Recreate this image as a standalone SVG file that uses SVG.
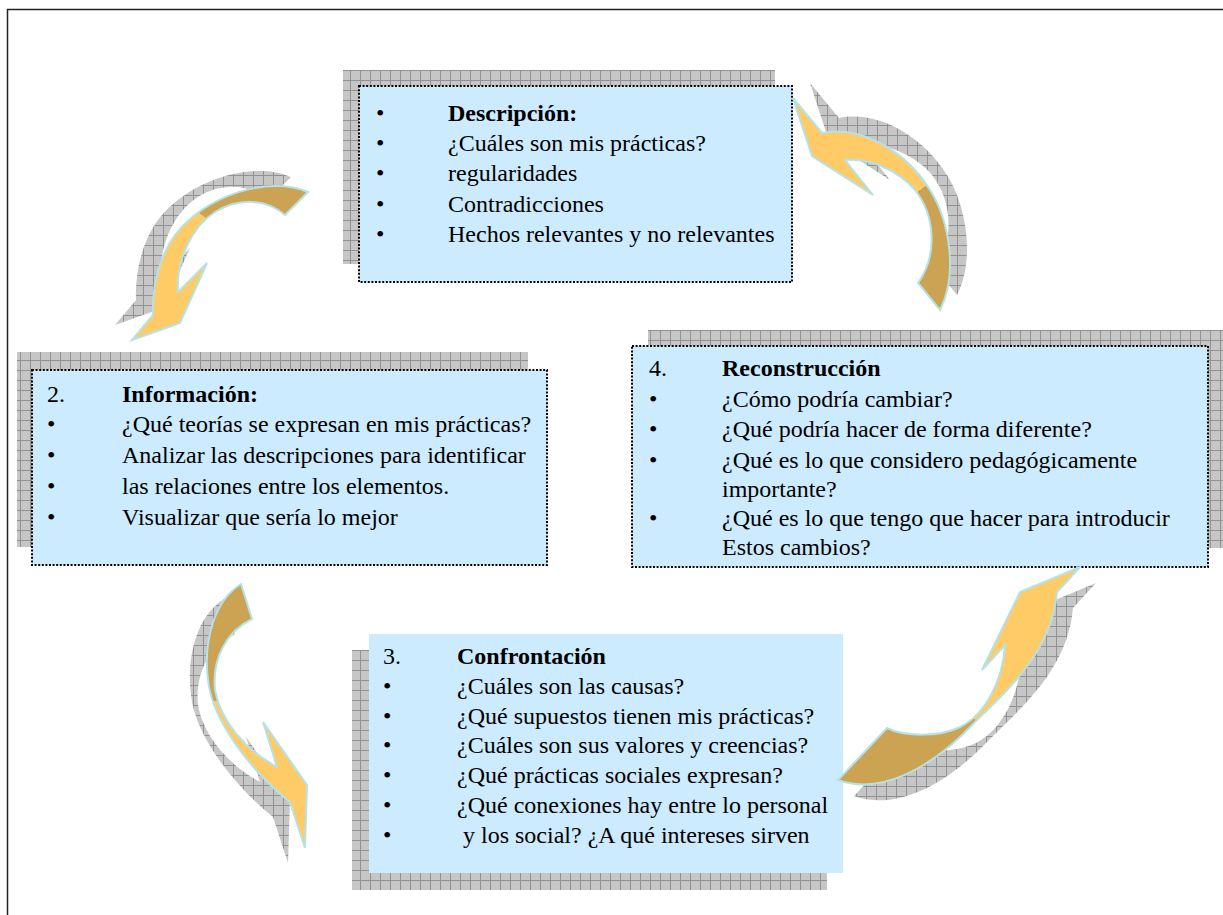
<svg xmlns="http://www.w3.org/2000/svg" width="1223" height="915" viewBox="0 0 1223 915">
<style>
.t{font-family:"Liberation Serif","Times New Roman",serif;font-size:24px;fill:#000}
.b{font-weight:bold}
.box{fill:#CCEBFE}
.dot{stroke:#000;stroke-width:2;stroke-dasharray:2 1.6}
.sh{fill:url(#chk)}
.arr{stroke:#B5E2E6;stroke-width:2;stroke-linejoin:miter}
</style>
<defs>
<pattern id="chk" width="10" height="10" patternUnits="userSpaceOnUse">
<rect width="10" height="10" fill="#c6c6c6"/>
<path d="M0 0.5H10M0.5 0V10" stroke="#929292" stroke-width="1"/>
</pattern>
<linearGradient id="gA" gradientUnits="userSpaceOnUse" x1="215" y1="198" x2="185" y2="228">
<stop offset="0.5" stop-color="#CCA352"/><stop offset="0.5" stop-color="#FECB67"/>
</linearGradient>
<linearGradient id="gB" gradientUnits="userSpaceOnUse" x1="905" y1="170" x2="935" y2="210">
<stop offset="0.5" stop-color="#FECB67"/><stop offset="0.5" stop-color="#CCA352"/>
</linearGradient>
<linearGradient id="gC" gradientUnits="userSpaceOnUse" x1="212" y1="690" x2="214" y2="712">
<stop offset="0.5" stop-color="#CCA352"/><stop offset="0.5" stop-color="#FECB67"/>
</linearGradient>
<linearGradient id="gD" gradientUnits="userSpaceOnUse" x1="960" y1="735" x2="990" y2="705">
<stop offset="0.5" stop-color="#CCA352"/><stop offset="0.5" stop-color="#FECB67"/>
</linearGradient>
<path id="pA" d="M308,192 C270,175 205,195 175,235 C158,258 152,290 153,315 L132,340 L180,323 L207,263 L178,292 C176,262 190,228 215,212 C238,198 265,198 285,215 Z"/>
<path id="pB" d="M822,133 C860,125 905,150 930,190 C950,222 958,275 940,310 L918,283 C938,255 935,215 915,190 C898,170 870,158 845,160 L873,195 L812,156 L793,98 Z"/>
<path id="pC" d="M241,584 C215,600 203,640 208,680 C212,720 250,770 290,802 L305,848 L307,785 L263,722 L277,767 C245,750 220,720 215,690 C212,660 225,632 252,619 Z"/>
<path id="pD" d="M1057,592 L1080,567 L1020,592 L982,670 L1005,645 C1003,680 985,715 960,727 C940,737 905,737 887,728 L838,780 C880,795 930,770 975,722 C1010,688 1052,650 1057,592 Z"/>
</defs>
<rect width="1223" height="915" fill="#fff"/>
<path d="M7,9.5H1223M7.5,9V915" stroke="#222" stroke-width="1.5" fill="none"/>

<g id="node-descripcion">
<rect class="sh" x="343" y="70" width="432" height="194"/>
<rect class="box dot" x="359" y="86" width="433" height="196"/>
<text class="t" x="376" y="121">•</text><text class="t b" x="448" y="121">Descripción:</text>
<text class="t" x="376" y="151">•</text><text class="t" x="448" y="151">¿Cuáles son mis prácticas?</text>
<text class="t" x="376" y="181">•</text><text class="t" x="448" y="181">regularidades</text>
<text class="t" x="376" y="211.5">•</text><text class="t" x="448" y="211.5">Contradicciones</text>
<text class="t" x="376" y="242">•</text><text class="t" x="448" y="242">Hechos relevantes y no relevantes</text>
</g>

<g id="node-informacion">
<rect class="sh" x="17" y="352" width="511" height="195"/>
<rect class="box dot" x="32" y="370" width="515" height="195"/>
<text class="t" x="47" y="402">2.</text><text class="t b" x="122" y="402">Información:</text>
<text class="t" x="47" y="432">•</text><text class="t" x="122" y="432">¿Qué teorías se expresan en mis prácticas?</text>
<text class="t" x="47" y="463">•</text><text class="t" x="122" y="463">Analizar las descripciones para identificar</text>
<text class="t" x="47" y="494">•</text><text class="t" x="122" y="494">las relaciones entre los elementos.</text>
<text class="t" x="47" y="525">•</text><text class="t" x="122" y="525">Visualizar que sería lo mejor</text>
</g>

<g id="node-reconstruccion">
<rect class="sh" x="648" y="330" width="575" height="218"/>
<rect class="box dot" x="632" y="346" width="576" height="221"/>
<text class="t" x="649" y="376">4.</text><text class="t b" x="722" y="376">Reconstrucción</text>
<text class="t" x="649" y="407">•</text><text class="t" x="722" y="407">¿Cómo podría cambiar?</text>
<text class="t" x="649" y="437">•</text><text class="t" x="722" y="437">¿Qué podría hacer de forma diferente?</text>
<text class="t" x="649" y="468">•</text><text class="t" x="722" y="468">¿Qué es lo que considero pedagógicamente</text>
<text class="t" x="722" y="497">importante?</text>
<text class="t" x="649" y="526">•</text><text class="t" x="722" y="526">¿Qué es lo que tengo que hacer para introducir</text>
<text class="t" x="722" y="555">Estos cambios?</text>
</g>

<g id="node-confrontacion">
<rect class="sh" x="352" y="650" width="475" height="240"/>
<rect class="box" x="369" y="634" width="474" height="239"/>
<text class="t" x="383" y="664">3.</text><text class="t b" x="457" y="664">Confrontación</text>
<text class="t" x="383" y="694">•</text><text class="t" x="457" y="694">¿Cuáles son las causas?</text>
<text class="t" x="383" y="724">•</text><text class="t" x="457" y="724">¿Qué supuestos tienen mis prácticas?</text>
<text class="t" x="383" y="753">•</text><text class="t" x="457" y="753">¿Cuáles son sus valores y creencias?</text>
<text class="t" x="383" y="783">•</text><text class="t" x="457" y="783">¿Qué prácticas sociales expresan?</text>
<text class="t" x="383" y="813">•</text><text class="t" x="457" y="813">¿Qué conexiones hay entre lo personal</text>
<text class="t" x="383" y="843">•</text><text class="t" x="463" y="843">y los social? ¿A qué intereses sirven</text>
</g>

<g id="connectors">
<use href="#pA" class="sh" transform="translate(-17,-15)"/>
<use href="#pB" class="sh" transform="translate(17,-15)"/>
<use href="#pC" class="sh" transform="translate(-17,15)"/>
<use href="#pD" class="sh" transform="translate(16,16)"/>
<use href="#pA" class="arr" fill="url(#gA)"/>
<use href="#pB" class="arr" fill="url(#gB)"/>
<use href="#pC" class="arr" fill="url(#gC)"/>
<use href="#pD" class="arr" fill="url(#gD)"/>
</g>
</svg>
